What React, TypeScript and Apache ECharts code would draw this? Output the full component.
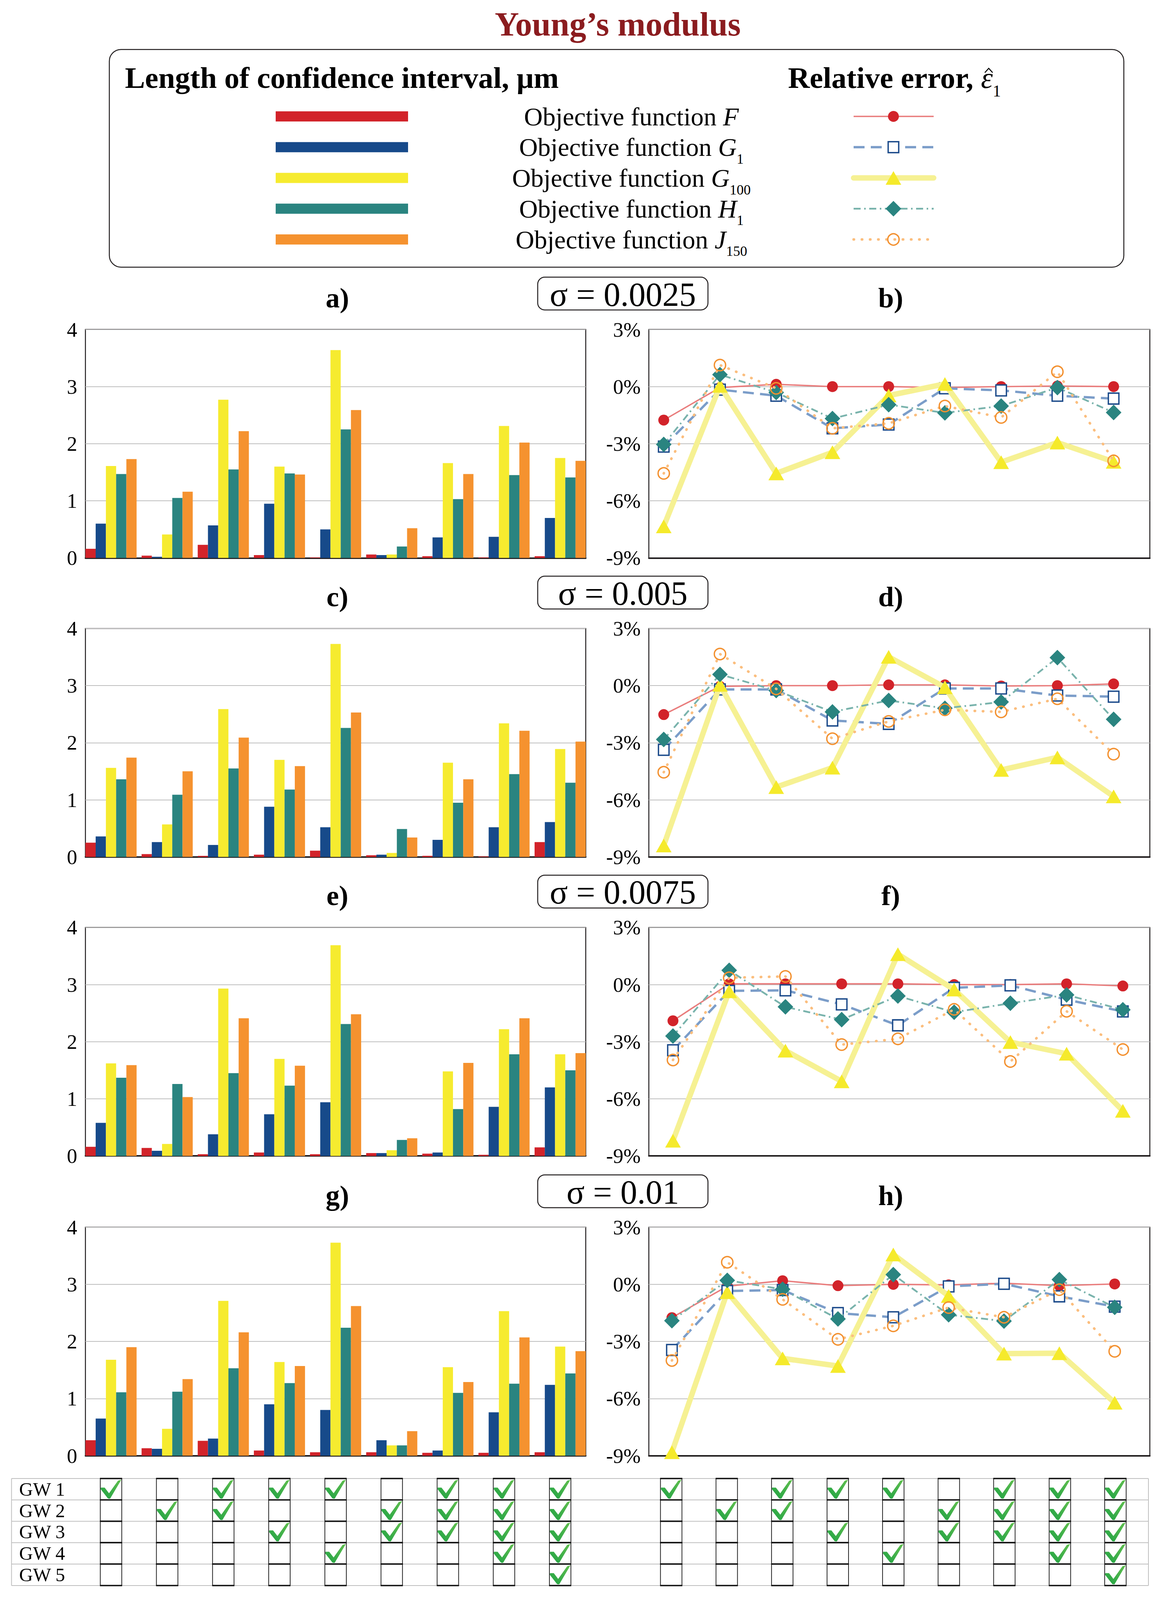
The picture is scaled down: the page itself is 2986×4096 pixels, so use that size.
import React, { useEffect, useRef } from "react";
import * as echarts from "echarts";

const W = 2986;
const H = 4096;
const FONT = '"Liberation Serif", "Times New Roman", Times, serif';

// ---------------- data ----------------
const groups = [1, 2, 3, 4, 5, 6, 7, 8, 9];
const objectiveNames = ["F", "G1", "G100", "H1", "J150"];
const sigmaLabels = ["σ = 0.0025", "σ = 0.005", "σ = 0.0075", "σ = 0.01"];
const panelLetters = [["a)", "b)"], ["c)", "d)"], ["e)", "f)"], ["g)", "h)"]];
const gwLabels = ["GW 1", "GW 2", "GW 3", "GW 4", "GW 5"];

// Length of confidence interval, μm  (σ = 0.0025)
const lenF_a = [0.16, 0.04, 0.23, 0.05, 0.01, 0.06, 0.03, 0.01, 0.03];
const lenG1_a = [0.6, 0.02, 0.57, 0.95, 0.5, 0.05, 0.36, 0.37, 0.7];
const lenG100_a = [1.61, 0.41, 2.77, 1.6, 3.64, 0.06, 1.66, 2.31, 1.75];
const lenH1_a = [1.47, 1.05, 1.55, 1.48, 2.25, 0.2, 1.03, 1.45, 1.41];
const lenJ150_a = [1.73, 1.16, 2.22, 1.46, 2.59, 0.52, 1.47, 2.02, 1.7];
// σ = 0.005
const lenF_c = [0.25, 0.05, 0.02, 0.04, 0.11, 0.03, 0.02, 0.01, 0.26];
const lenG1_c = [0.36, 0.26, 0.21, 0.88, 0.52, 0.04, 0.3, 0.52, 0.61];
const lenG100_c = [1.56, 0.57, 2.59, 1.7, 3.73, 0.07, 1.65, 2.34, 1.89];
const lenH1_c = [1.36, 1.09, 1.55, 1.18, 2.26, 0.49, 0.95, 1.45, 1.3];
const lenJ150_c = [1.74, 1.5, 2.09, 1.59, 2.53, 0.34, 1.36, 2.21, 2.02];
// σ = 0.0075
const lenF_e = [0.16, 0.14, 0.03, 0.06, 0.03, 0.05, 0.04, 0.02, 0.15];
const lenG1_e = [0.58, 0.09, 0.38, 0.73, 0.94, 0.05, 0.06, 0.86, 1.2];
const lenG100_e = [1.62, 0.21, 2.93, 1.7, 3.69, 0.1, 1.48, 2.22, 1.78];
const lenH1_e = [1.37, 1.26, 1.45, 1.23, 2.31, 0.28, 0.82, 1.78, 1.5];
const lenJ150_e = [1.59, 1.03, 2.41, 1.58, 2.48, 0.31, 1.63, 2.41, 1.8];
// σ = 0.01
const lenF_g = [0.27, 0.13, 0.26, 0.09, 0.06, 0.06, 0.05, 0.05, 0.06];
const lenG1_g = [0.65, 0.12, 0.3, 0.9, 0.8, 0.27, 0.09, 0.76, 1.24];
const lenG100_g = [1.68, 0.47, 2.71, 1.64, 3.73, 0.18, 1.55, 2.53, 1.91];
const lenH1_g = [1.11, 1.12, 1.53, 1.27, 2.24, 0.18, 1.1, 1.26, 1.44];
const lenJ150_g = [1.9, 1.34, 2.16, 1.57, 2.62, 0.43, 1.29, 2.07, 1.83];

// Relative error, %  (σ = 0.0025)
const errF_b = [-1.76, -0.05, 0.12, 0.0, 0.0, -0.05, 0.0, 0.03, 0.0];
const errG1_b = [-3.15, -0.16, -0.48, -2.19, -1.99, -0.09, -0.2, -0.48, -0.63];
const errG100_b = [-7.34, 0.04, -4.56, -3.45, -0.47, 0.14, -3.97, -2.94, -3.95];
const errH1_b = [-3.04, 0.63, -0.31, -1.68, -0.95, -1.38, -1.02, -0.05, -1.36];
const errJ150_b = [-4.56, 1.13, -0.09, -2.19, -1.93, -1.02, -1.62, 0.78, -3.9];
// σ = 0.005
const errF_d = [-1.52, -0.04, 0.0, 0.0, 0.04, 0.04, -0.02, 0.0, 0.09];
const errG1_d = [-3.37, -0.2, -0.2, -1.83, -2.01, -0.15, -0.15, -0.52, -0.58];
const errG100_d = [-8.4, 0.04, -5.33, -4.31, 1.51, -0.09, -4.43, -3.77, -5.82];
const errH1_d = [-2.83, 0.59, -0.26, -1.38, -0.78, -1.19, -0.86, 1.47, -1.77];
const errJ150_d = [-4.55, 1.66, -0.17, -2.79, -1.88, -1.27, -1.38, -0.69, -3.6];
// σ = 0.0075
const errF_f = [-1.9, 0.04, 0.04, 0.04, 0.04, 0.0, 0.0, 0.04, -0.07];
const errG1_f = [-3.45, -0.33, -0.3, -1.04, -2.14, -0.17, -0.04, -0.79, -1.41];
const errG100_f = [-8.2, -0.35, -3.47, -5.08, 1.6, -0.26, -3.02, -3.63, -6.63];
const errH1_f = [-2.7, 0.75, -1.17, -1.84, -0.6, -1.45, -0.98, -0.54, -1.32];
const errJ150_f = [-3.96, 0.36, 0.43, -3.15, -2.85, -1.3, -4.04, -1.4, -3.41];
// σ = 0.01
const errF_h = [-1.75, -0.1, 0.19, -0.07, 0.0, -0.03, 0.06, -0.07, 0.02];
const errG1_h = [-3.45, -0.35, -0.3, -1.51, -1.73, -0.11, 0.03, -0.63, -1.17];
const errG100_h = [-8.82, -0.41, -3.89, -4.29, 1.57, -0.61, -3.64, -3.62, -6.22];
const errH1_h = [-1.91, 0.21, -0.26, -1.82, 0.51, -1.6, -1.93, 0.25, -1.21];
const errJ150_h = [-4.0, 1.16, -0.79, -2.89, -2.18, -1.22, -1.73, -0.28, -3.52];

// GW checkboxes (1 = checked)
const checkGW1 = [1, 0, 1, 1, 1, 0, 1, 1, 1];
const checkGW2 = [0, 1, 1, 0, 0, 1, 1, 1, 1];
const checkGW3 = [0, 0, 0, 1, 0, 1, 1, 1, 1];
const checkGW4 = [0, 0, 0, 0, 1, 0, 0, 1, 1];
const checkGW5 = [0, 0, 0, 0, 0, 0, 0, 0, 1];

const barPanels = [
  [lenF_a, lenG1_a, lenG100_a, lenH1_a, lenJ150_a],
  [lenF_c, lenG1_c, lenG100_c, lenH1_c, lenJ150_c],
  [lenF_e, lenG1_e, lenG100_e, lenH1_e, lenJ150_e],
  [lenF_g, lenG1_g, lenG100_g, lenH1_g, lenJ150_g],
];
const linePanels = [
  [errF_b, errG1_b, errG100_b, errH1_b, errJ150_b],
  [errF_d, errG1_d, errG100_d, errH1_d, errJ150_d],
  [errF_f, errG1_f, errG100_f, errH1_f, errJ150_f],
  [errF_h, errG1_h, errG100_h, errH1_h, errJ150_h],
];
const checkRows = [checkGW1, checkGW2, checkGW3, checkGW4, checkGW5];

// ---------------- layout / style ----------------
const PANEL_TOPS = [843.5, 1609.0, 2374.4, 3141.7];
const PH = 584.8;
const BL = 218.8;
const BW = 1281.2;
const LL = 1661.6;
const LW = 1283;
const BAR_RANGE = [0.5445, 9.4555];
const LINE_RANGES = [
  [0.735, 9.644],
  [0.735, 9.644],
  [0.571, 9.48],
  [0.583, 9.635],
];
const TABLE_TOP = 3784.9;
const ROW_H = 54.8;
const TABLE_RIGHT_RANGE = [0.597, 9.62];
const FRAME = "#231F20";
const GRIDC = "#BFBFBF";
const BAR_COLORS = ["#D2232A", "#174A8A", "#F6EB2F", "#2A8480", "#F5922F"];

const LINE_CFG: any[] = [
  {
    symbol: "circle",
    symbolSize: 28,
    itemStyle: { color: "#D2232A" },
    lineStyle: { color: "#E97C7C", width: 3.6 },
  },
  {
    symbol: "rect",
    symbolSize: [27, 28],
    itemStyle: { color: "#FFFFFF", borderColor: "#1B4A8A", borderWidth: 3.5 },
    lineStyle: { color: "#7B9DC9", width: 6, type: [28, 16] },
  },
  {
    symbol: "triangle",
    symbolSize: [40, 35],
    itemStyle: { color: "#F5EA2B" },
    lineStyle: { color: "#F6F193", width: 14, cap: "round", join: "round" },
  },
  {
    symbol: "diamond",
    symbolSize: [40, 40],
    itemStyle: { color: "#2A8480" },
    lineStyle: { color: "#79B3AC", width: 4.5, type: [18, 9, 4, 9] },
  },
  {
    symbol: "circle",
    symbolSize: 29,
    itemStyle: { color: "rgba(255,255,255,0)", borderColor: "#F39130", borderWidth: 3.5 },
    lineStyle: { color: "#FBBE7E", width: 6.5, type: [1, 20], cap: "round" },
  },
];

const CHECK_PATH = "M2 42 L20 42 L41 70 L84 8 L100 3 L46 97 L36 96 L1 50 Z";

function buildOption() {
  const grid: any[] = [];
  const xAxis: any[] = [];
  const yAxis: any[] = [];
  const series: any[] = [];
  const graphic: any[] = [];

  const labelStyle = { fontSize: 53, fontFamily: FONT, color: "#000" };

  for (let p = 0; p < 4; p++) {
    const top = PANEL_TOPS[p];
    // ---- bar chart ----
    const gb = grid.length;
    grid.push({ left: BL, top, width: BW, height: PH, show: true, borderColor: FRAME, borderWidth: 2.5, backgroundColor: "transparent" });
    xAxis.push({
      type: "value", gridIndex: gb, min: BAR_RANGE[0], max: BAR_RANGE[1],
      axisLine: { show: true, onZero: false, lineStyle: { color: FRAME, width: 4 } },
      axisTick: { show: false }, axisLabel: { show: false }, splitLine: { show: false },
    });
    yAxis.push({
      type: "value", gridIndex: gb, min: 0, max: 4, interval: 1,
      axisLine: { show: false }, axisTick: { show: false },
      axisLabel: { ...labelStyle, margin: 21 },
      splitLine: { show: true, lineStyle: { color: GRIDC, width: 2 } },
    });
    barPanels[p].forEach((vals, s) => {
      series.push({
        type: "bar", name: objectiveNames[s], xAxisIndex: gb, yAxisIndex: gb,
        data: vals.map((v, i) => [groups[i], v]),
        barWidth: 26.2, barGap: "0%",
        itemStyle: { color: BAR_COLORS[s] },
        z: 2,
      });
    });

    // ---- line chart ----
    const gl = grid.length;
    grid.push({ left: LL, top, width: LW, height: PH, show: true, borderColor: FRAME, borderWidth: 2.5, backgroundColor: "transparent" });
    xAxis.push({
      type: "value", gridIndex: gl, min: LINE_RANGES[p][0], max: LINE_RANGES[p][1],
      axisLine: { show: true, onZero: false, lineStyle: { color: FRAME, width: 4 } },
      axisTick: { show: false }, axisLabel: { show: false }, splitLine: { show: false },
    });
    yAxis.push({
      type: "value", gridIndex: gl, min: -9, max: 3, interval: 3,
      axisLine: { show: false }, axisTick: { show: false },
      axisLabel: { ...labelStyle, margin: 21, formatter: "{value}%" },
      splitLine: { show: true, lineStyle: { color: GRIDC, width: 2 } },
    });
    linePanels[p].forEach((vals, s) => {
      const cfg = LINE_CFG[s];
      series.push({
        type: "line", name: objectiveNames[s], xAxisIndex: gl, yAxisIndex: gl,
        data: vals.map((v, i) => [groups[i], v]),
        symbol: cfg.symbol, symbolSize: cfg.symbolSize, showSymbol: true, showAllSymbol: true,
        itemStyle: cfg.itemStyle, lineStyle: cfg.lineStyle,
        z: 3 + s,
      });
    });

    // ---- panel labels & sigma box ----
    graphic.push({
      type: "text", x: 864, y: top - 81,
      style: { text: panelLetters[p][0], fontSize: 72, fontWeight: "bold", fontFamily: FONT, fill: "#000", align: "center", verticalAlign: "middle" },
    });
    graphic.push({
      type: "text", x: 2281, y: top - 81,
      style: { text: panelLetters[p][1], fontSize: 72, fontWeight: "bold", fontFamily: FONT, fill: "#000", align: "center", verticalAlign: "middle" },
    });
    graphic.push({
      type: "rect", shape: { x: 1377, y: top - 92 - 42, width: 436, height: 84, r: 18 },
      style: { fill: "#fff", stroke: FRAME, lineWidth: 2.5 },
    });
    graphic.push({
      type: "text", x: 1595, y: top - 90,
      style: { text: sigmaLabels[p], fontSize: 86, fontFamily: FONT, fill: "#000", align: "center", verticalAlign: "middle" },
    });
  }

  // ---- checkbox tables ----
  const tableData: any[] = [];
  checkRows.forEach((row, r) => row.forEach((on, c) => tableData.push([groups[c], r, on])));
  const checkFill = new echarts.graphic.LinearGradient(0, 1, 1, 0, [
    { offset: 0, color: "#1FA244" },
    { offset: 1, color: "#62BF4F" },
  ]);
  const renderCell = (params: any, api: any) => {
    const c = api.coord([api.value(0), api.value(1)]);
    const rh = api.size([0, 1])[1];
    const bw = 55;
    const x0 = c[0] - bw / 2;
    const y0 = c[1] - rh / 2;
    const children: any[] = [
      { type: "rect", shape: { x: x0, y: y0, width: bw, height: rh }, style: { fill: "#fff", stroke: "#111", lineWidth: 1.8 } },
      { type: "line", shape: { x1: x0 - 0.9, y1: y0, x2: x0 + bw + 0.9, y2: y0 }, style: { stroke: "#111", lineWidth: 3.5 } },
      { type: "line", shape: { x1: x0 - 0.9, y1: y0 + rh, x2: x0 + bw + 0.9, y2: y0 + rh }, style: { stroke: "#111", lineWidth: 3.5 } },
    ];
    if (api.value(2)) {
      children.push({
        type: "path",
        shape: { pathData: CHECK_PATH, x: x0 + 1, y: y0 + 3, width: bw - 2, height: rh - 6, layout: "cover" },
        style: { fill: checkFill },
      });
    }
    return { type: "group", children };
  };

  const tl = grid.length;
  grid.push({ left: BL, top: TABLE_TOP, width: BW, height: ROW_H * 5 });
  xAxis.push({ type: "value", gridIndex: tl, min: BAR_RANGE[0], max: BAR_RANGE[1], show: false });
  yAxis.push({
    type: "category", gridIndex: tl, data: gwLabels, inverse: true,
    axisLine: { show: false }, axisTick: { show: false }, splitLine: { show: false },
    axisLabel: { fontSize: 49, lineHeight: 48, fontFamily: FONT, color: "#000", align: "left", margin: BL - 49, interval: 0 },
  });
  series.push({ type: "custom", xAxisIndex: tl, yAxisIndex: tl, data: tableData, renderItem: renderCell, encode: { x: 0, y: 1 }, z: 5 });

  const tr = grid.length;
  grid.push({ left: LL, top: TABLE_TOP, width: LW, height: ROW_H * 5 });
  xAxis.push({ type: "value", gridIndex: tr, min: TABLE_RIGHT_RANGE[0], max: TABLE_RIGHT_RANGE[1], show: false });
  yAxis.push({
    type: "category", gridIndex: tr, data: gwLabels, inverse: true,
    axisLine: { show: false }, axisTick: { show: false }, splitLine: { show: false }, axisLabel: { show: false },
  });
  series.push({ type: "custom", xAxisIndex: tr, yAxisIndex: tr, data: tableData, renderItem: renderCell, encode: { x: 0, y: 1 }, z: 5 });

  // table rules
  for (let k = 0; k <= 5; k++) {
    const y = TABLE_TOP + k * ROW_H;
    graphic.push({ type: "line", shape: { x1: 29.5, y1: y, x2: 2941, y2: y }, style: { stroke: GRIDC, lineWidth: 2 } });
  }
  [29.5, 2941].forEach((x) =>
    graphic.push({ type: "line", shape: { x1: x, y1: TABLE_TOP, x2: x, y2: TABLE_TOP + 5 * ROW_H }, style: { stroke: GRIDC, lineWidth: 2 } })
  );

  // ---- title ----
  graphic.push({
    type: "text", x: 1582, y: 62,
    style: { text: "Young’s modulus", fontSize: 86, fontWeight: "bold", fontFamily: FONT, fill: "#8B1C1F", align: "center", verticalAlign: "middle" },
  });

  // ---- legend ----
  graphic.push({
    type: "rect", shape: { x: 280, y: 126.7, width: 2598, height: 557.3, r: 30 },
    style: { fill: "#fff", stroke: FRAME, lineWidth: 2.5 },
  });
  graphic.push({
    type: "text", x: 320, y: 199,
    style: { text: "Length of confidence interval, μm", fontSize: 77, fontWeight: "bold", fontFamily: FONT, fill: "#000", align: "left", verticalAlign: "middle" },
  });
  graphic.push({
    type: "text", x: 2018, y: 199,
    style: {
      text: "Relative error, {e|ε}{s|1}",
      fontSize: 77, fontWeight: "bold", fontFamily: FONT, fill: "#000", align: "left", verticalAlign: "middle", lineHeight: 110,
      rich: {
        e: { fontSize: 77, fontFamily: FONT, fontStyle: "italic", fontWeight: "normal", fill: "#000", lineHeight: 110 },
        s: { fontSize: 42, fontFamily: FONT, fontWeight: "normal", fill: "#000", lineHeight: 42, verticalAlign: "bottom" },
      },
    },
  });
  // circumflex (hat) over ε, drawn as a small chevron
  graphic.push({
    type: "polyline",
    shape: { points: [[2522, 186], [2532, 175], [2542, 186]] },
    style: { stroke: "#000", lineWidth: 2.6, fill: "none" },
  });

  const legendTexts = [
    "Objective function {i|F}",
    "Objective function {i|G}{s|1}",
    "Objective function {i|G}{s|100}",
    "Objective function {i|H}{s|1}",
    "Objective function {i|J}{s|150}",
  ];
  const lx1 = 2186;
  const lx2 = 2391;
  const lcx = 2288;
  for (let i = 0; i < 5; i++) {
    const y = 298 + i * 78.75;
    graphic.push({ type: "rect", shape: { x: 706, y: y - 13, width: 339, height: 26 }, style: { fill: BAR_COLORS[i] } });
    graphic.push({
      type: "text", x: 1617, y,
      style: {
        text: legendTexts[i], fontSize: 66, fontFamily: FONT, fill: "#000", align: "center", verticalAlign: "middle", lineHeight: 76,
        rich: {
          i: { fontSize: 66, fontFamily: FONT, fontStyle: "italic", fill: "#000", lineHeight: 76 },
          s: { fontSize: 36, fontFamily: FONT, fill: "#000", lineHeight: 36, verticalAlign: "bottom", padding: [0, 0, -10, 0] },
        },
      },
    });
    const cfg = LINE_CFG[i];
    const ls = cfg.lineStyle;
    graphic.push({
      type: "line", shape: { x1: lx1, y1: y, x2: lx2, y2: y },
      style: { stroke: ls.color, lineWidth: ls.width, lineDash: Array.isArray(ls.type) ? ls.type : null, lineCap: ls.cap || "butt" },
    });
    if (i === 0) {
      graphic.push({ type: "circle", shape: { cx: lcx, cy: y, r: 14 }, style: { fill: cfg.itemStyle.color } });
    } else if (i === 1) {
      graphic.push({ type: "rect", shape: { x: lcx - 13.5, y: y - 14, width: 27, height: 28 }, style: { fill: "#fff", stroke: "#1B4A8A", lineWidth: 3.5 } });
    } else if (i === 2) {
      graphic.push({ type: "polygon", shape: { points: [[lcx, y - 17.5], [lcx + 20, y + 17.5], [lcx - 20, y + 17.5]] }, style: { fill: cfg.itemStyle.color } });
    } else if (i === 3) {
      graphic.push({ type: "polygon", shape: { points: [[lcx, y - 20], [lcx + 20, y], [lcx, y + 20], [lcx - 20, y]] }, style: { fill: cfg.itemStyle.color } });
    } else {
      graphic.push({ type: "circle", shape: { cx: lcx, cy: y, r: 14.5 }, style: { fill: "none", stroke: "#F39130", lineWidth: 3.5 } });
    }
  }

  return {
    animation: false,
    backgroundColor: "#ffffff",
    grid,
    xAxis,
    yAxis,
    series,
    graphic: { elements: graphic },
  };
}

export default function App() {
  const ref = useRef<HTMLDivElement>(null);
  useEffect(() => {
    document.body.style.margin = "0";
    document.body.style.overflow = "hidden";
    const chart = echarts.init(ref.current as HTMLDivElement, null, { renderer: "svg", width: W, height: H });
    chart.setOption(buildOption() as any);
    return () => chart.dispose();
  }, []);
  return <div ref={ref} style={{ width: W, height: H, position: "absolute", left: 0, top: 0, background: "#fff" }} />;
}
